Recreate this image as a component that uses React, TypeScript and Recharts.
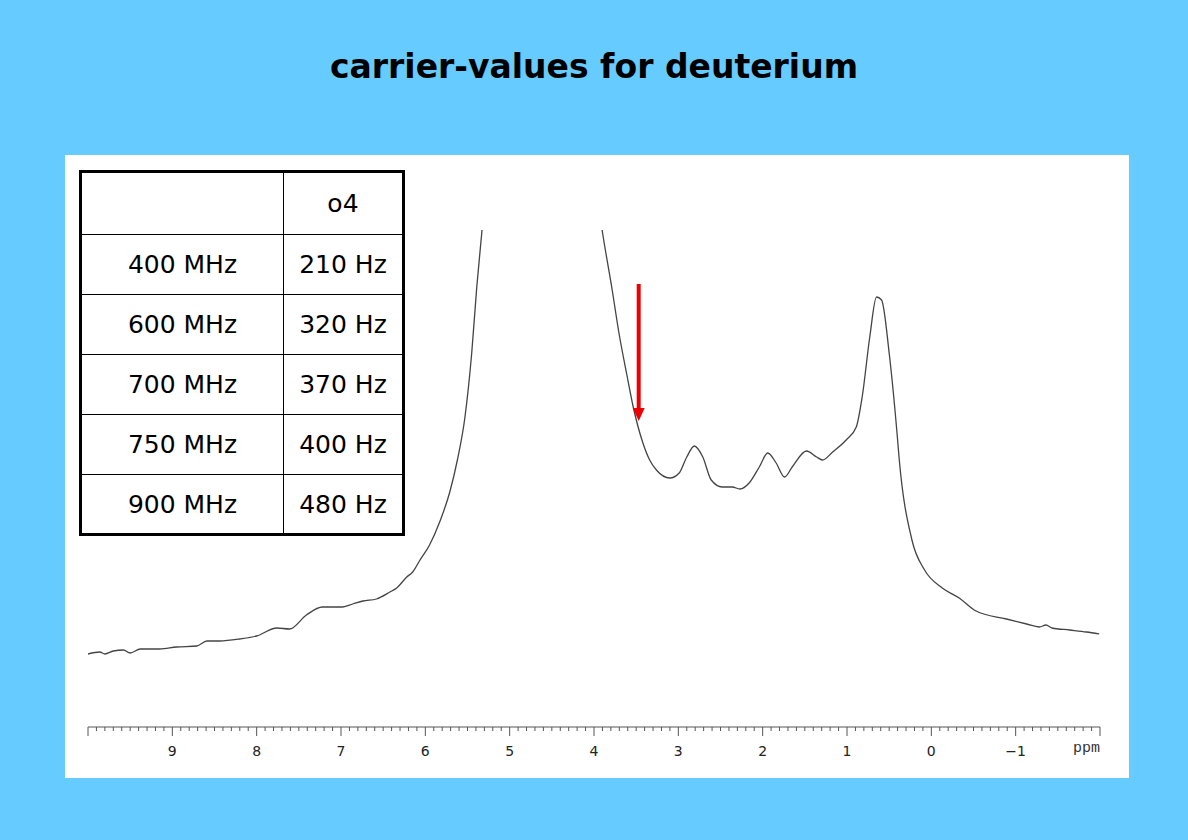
import React from 'react';
import { LineChart, Line, XAxis, YAxis, ReferenceLine } from 'recharts';

// chemical shift (ppm) and intensity
const ppm = [
  10.0, 9.86, 9.8, 9.7, 9.58, 9.5, 9.38, 9.15, 8.95, 8.71, 8.59, 8.44, 8.2, 8.0,
  7.76, 7.61, 7.41, 7.22, 6.98, 6.86, 6.74, 6.58, 6.42, 6.34, 6.22, 6.15, 6.07,
  5.95, 5.83, 5.71, 5.62, 5.53, 5.45, 5.39, 5.33, 5.27, 5.15, 5.0, 4.62, 4.2,
  4.05, 3.96, 3.9, 3.79, 3.7, 3.61, 3.54, 3.42, 3.34, 3.26, 3.1, 2.99,
  2.9, 2.81, 2.71, 2.61, 2.48, 2.36, 2.27, 2.16, 2.04, 1.94, 1.84, 1.74, 1.65,
  1.48, 1.36, 1.29, 1.17, 1.01, 0.89, 0.82, 0.73, 0.65, 0.59, 0.5, 0.41, 0.38,
  0.23, 0.08, -0.13, -0.33, -0.53, -0.89, -1.13, -1.28, -1.36, -1.43, -1.64,
  -1.84, -1.99,
];
const intensity = [
  73, 75, 73, 76, 77, 74, 78, 78, 80, 81, 86, 86, 88, 91,
  99, 98, 112, 120, 120, 123, 126, 128, 135, 139, 150, 155, 166,
  182, 205, 235, 267, 310, 374, 440, 495, 558, 690, 860, 1400, 680,
  586, 530, 495, 440, 392, 352, 322, 284, 267, 257, 249, 254,
  270, 281, 270, 247, 240, 240, 238, 244, 260, 274, 264, 250, 260,
  276, 270, 267, 275, 287, 300, 330, 390, 430, 427, 374, 297, 267,
  187, 157, 139, 129, 116, 108, 103, 100, 102, 99, 97,
  95, 93,
];

const majorTicks = [9, 8, 7, 6, 5, 4, 3, 2, 1, 0, -1];

const fields = ['', '400 MHz', '600 MHz', '700 MHz', '750 MHz', '900 MHz'];
const o4 = ['o4', '210 Hz', '320 Hz', '370 Hz', '400 Hz', '480 Hz'];

const data = ppm.map((p, i) => ({ ppm: p, v: intensity[i] }));

const allTicks: number[] = [];
for (let i = -20; i <= 100; i++) allTicks.push(i / 10);

const PpmTick = (props: any) => {
  const { x, y, payload } = props;
  const val = payload.value;
  const major = Math.abs(val - Math.round(val)) < 1e-6;
  const showLabel = major && majorTicks.includes(Math.round(val));
  return (
    <g>
      <line x1={x} x2={x} y1={y} y2={y + (major ? 9 : 4)} stroke="#555" strokeWidth={1} />
      {showLabel && (
        <text x={x} y={y + 29} textAnchor="middle" fontSize={14} fill="#222"
          fontFamily="DejaVu Sans, sans-serif">
          {Math.round(val) < 0 ? '\u2212' + Math.abs(Math.round(val)) : Math.round(val)}
        </text>
      )}
    </g>
  );
};

const Arrow = (props: any) => {
  const { x1, y1, x2, y2 } = props;
  return (
    <g>
      <line x1={x1} y1={y1} x2={x2} y2={y2 - 12} stroke="#ee0000" strokeWidth={4} />
      <polygon points={`${x2 - 6},${y2 - 13} ${x2 + 6},${y2 - 13} ${x2},${y2}`} fill="#ee0000" />
    </g>
  );
};

export default function App() {
  const cell: React.CSSProperties = {
    border: '1px solid #000',
    textAlign: 'center',
    fontSize: 25,
    padding: 0,
    fontFamily: '"Comic Sans MS", "DejaVu Sans", sans-serif',
  };
  return (
    <div style={{ position: 'fixed', left: 0, top: 0, width: 1188, height: 840, background: '#66ccff' }}>
      <div style={{
        position: 'absolute', left: 0, top: 47, width: 1188, textAlign: 'center',
        fontSize: 33, fontWeight: 'bold', color: '#000',
        fontFamily: '"Comic Sans MS", "DejaVu Sans", sans-serif',
      }}>
        carrier-values for deuterium
      </div>
      <div style={{ position: 'absolute', left: 65, top: 155, width: 1064, height: 623, background: '#fff' }}>
        <LineChart width={1064} height={623} data={data}
          margin={{ top: 75, right: 29, left: 23, bottom: 0 }}>
          <XAxis dataKey="ppm" type="number" domain={[-2, 10]} reversed allowDataOverflow
            ticks={allTicks} interval={0} tick={<PpmTick />} tickLine={false}
            tickSize={0} tickMargin={0} height={51} stroke="#555" />
          <YAxis hide width={0} domain={[0, 497]} allowDataOverflow />
          <Line type="monotone" dataKey="v" stroke="#444" strokeWidth={1.3} dot={false}
            isAnimationActive={false} />
          <ReferenceLine segment={[{ x: 3.47, y: 443 }, { x: 3.47, y: 306 }]}
            shape={<Arrow />} />
        </LineChart>
        <div style={{
          position: 'absolute', left: 975, top: 585, width: 60, textAlign: 'right',
          fontSize: 15, color: '#333', fontFamily: '"Liberation Mono", monospace',
        }}>
          ppm
        </div>
      </div>
      <table style={{
        position: 'absolute', left: 79, top: 170, borderCollapse: 'collapse',
        border: '3px solid #000', background: '#fff', width: 326, height: 365,
      }}>
        <tbody>
          {fields.map((f, i) => (
            <tr key={i} style={{ height: i === 0 ? 63 : 60 }}>
              <td style={{ ...cell, width: 205 }}>{f}</td>
              <td style={{ ...cell, width: 120 }}>{o4[i]}</td>
            </tr>
          ))}
        </tbody>
      </table>
    </div>
  );
}
